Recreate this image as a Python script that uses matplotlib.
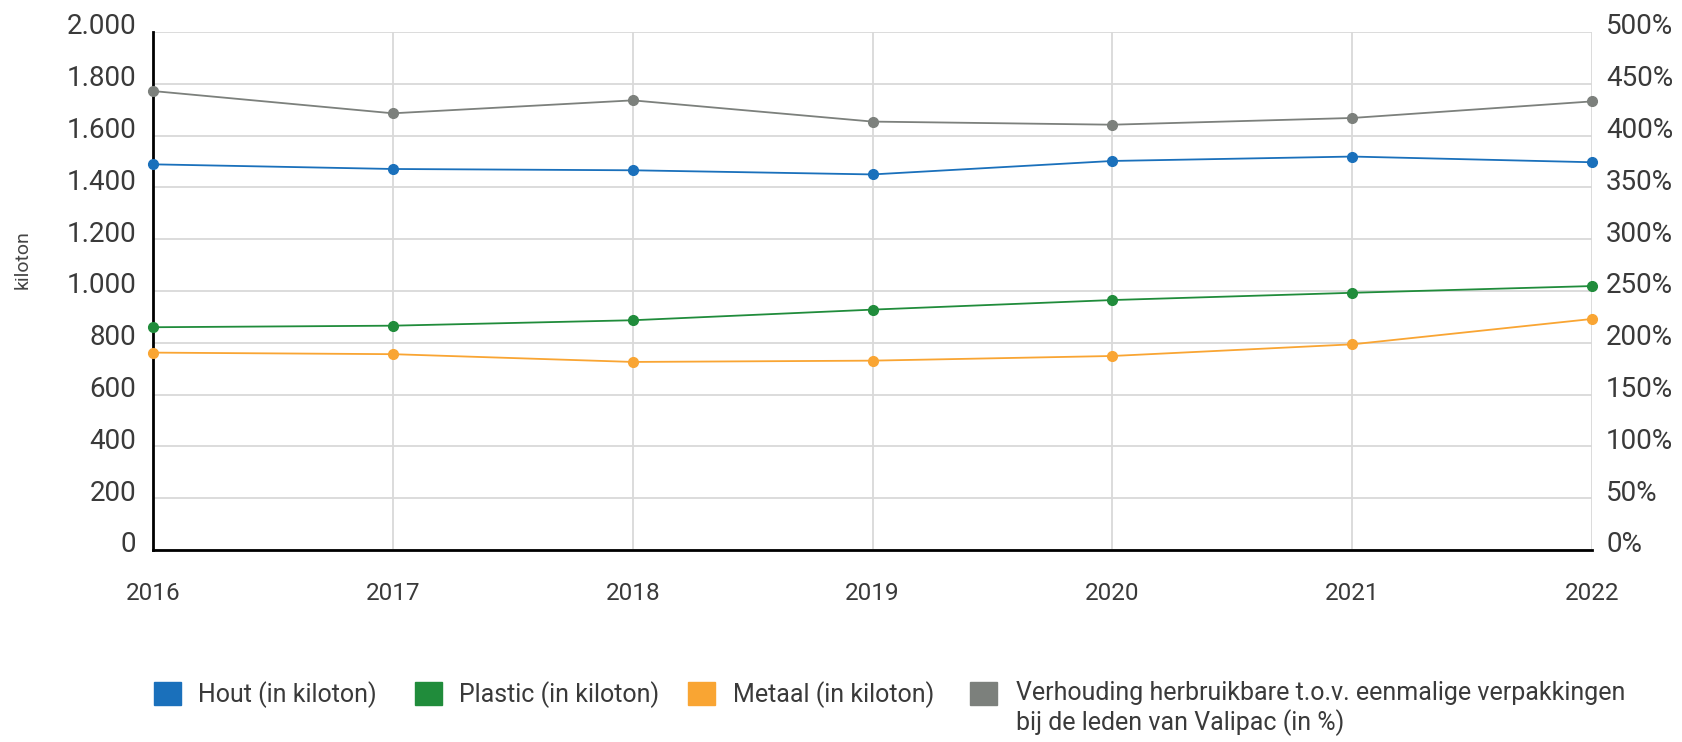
import matplotlib
matplotlib.use('Agg')
import matplotlib.pyplot as plt
import matplotlib.transforms as mtransforms
from matplotlib.patches import Rectangle

# data
years = [2016, 2017, 2018, 2019, 2020, 2021, 2022]
hout = [1489, 1471, 1466, 1450, 1502, 1519, 1497]
plastic = [860, 866, 887, 928, 965, 993, 1019]
metaal = [762, 756, 726, 731, 749, 794, 892]
verhouding = [443, 421.5, 434, 413.5, 410.5, 417, 433]

left_ticks = [0, 200, 400, 600, 800, 1000, 1200, 1400, 1600, 1800, 2000]
left_labels = ['0', '200', '400', '600', '800', '1.000', '1.200', '1.400',
               '1.600', '1.800', '2.000']
right_ticks = [0, 50, 100, 150, 200, 250, 300, 350, 400, 450, 500]
right_labels = ['%d%%' % v for v in right_ticks]

legend_labels = ['Hout (in kiloton)', 'Plastic (in kiloton)',
                 'Metaal (in kiloton)',
                 'Verhouding herbruikbare t.o.v. eenmalige verpakkingen\n'
                 'bij de leden van Valipac (in %)']

c_blue = '#1a70bb'
c_green = '#208c3b'
c_orange = '#f9a533'
c_gray = '#7c807c'
c_grid = '#d9d9d9'
c_text = '#3a3a3a'

plt.rcParams['font.family'] = ['Roboto', 'DejaVu Sans']
plt.rcParams['font.weight'] = 'normal'

fig = plt.figure(figsize=(16.83, 7.42), dpi=100)
ax = fig.add_axes([0.0909, 0.2588, 0.8551, 0.6981])
ax2 = ax.twinx()

ax.set_xlim(years[0], years[-1])
ax.set_ylim(0, 2000)
ax2.set_ylim(0, 500)

ax.set_xticks(years)
ax.set_yticks(left_ticks)
ax.set_yticklabels(left_labels)
ax2.set_yticks(right_ticks)
ax2.set_yticklabels(right_labels)

ax.grid(True, color=c_grid, linewidth=1.3)
ax.set_axisbelow(True)

for a in (ax, ax2):
    for s in a.spines.values():
        s.set_visible(False)
    a.tick_params(length=0)
for side in ('left', 'bottom'):
    ax.spines[side].set_visible(True)
    ax.spines[side].set_linewidth(2)
    ax.spines[side].set_color('black')
    ax.spines[side].set_zorder(5)

ax.tick_params(axis='y', labelsize=20, labelcolor=c_text, pad=12)
ax.tick_params(axis='x', labelsize=17.5, labelcolor=c_text, pad=23)
ax2.tick_params(axis='y', labelsize=20, labelcolor=c_text, pad=10)

# labels sit slightly above their grid lines
shift = mtransforms.ScaledTranslation(0, 8 / 100, fig.dpi_scale_trans)
for lab in ax.get_yticklabels() + ax2.get_yticklabels():
    lab.set_transform(lab.get_transform() + shift)

ax.set_ylabel('kiloton', fontsize=14, color='#444444')
ax.yaxis.set_label_coords(-0.084, 0.56)

kw = dict(linewidth=1.3, marker='o', markersize=7, clip_on=False, zorder=6)
ax.plot(years, hout, color=c_blue, **kw)
ax.plot(years, plastic, color=c_green, **kw)
ax.plot(years, metaal, color=c_orange, **kw)
ax2.plot(years, verhouding, color=c_gray, **kw)

# legend
W, H = 1683, 742
colors = [c_blue, c_green, c_orange, c_gray]
box_x = [154, 415, 688, 970]
text_x = [198, 459, 733, 1016]
for col, bx, tx, lab in zip(colors, box_x, text_x, legend_labels):
    fig.patches.append(Rectangle((bx / W, 1 - 705 / H), 27 / W, 23 / H,
                                 transform=fig.transFigure, color=col))
    fig.text(tx / W, 1 - 681 / H, lab, fontsize=18, color=c_text,
             va='top', ha='left', linespacing=1.2)

fig.savefig('out.png', dpi=100)
